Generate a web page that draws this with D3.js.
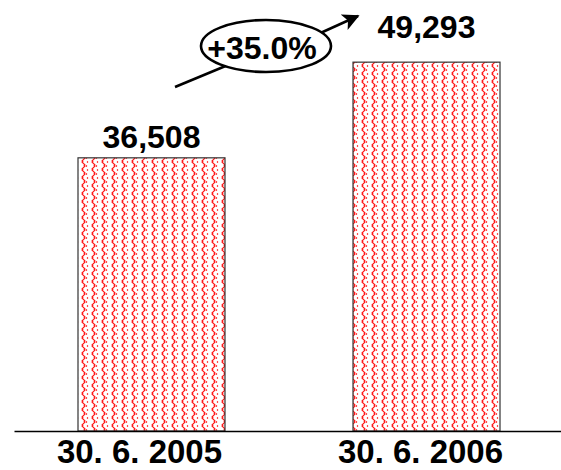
<!DOCTYPE html>
<html>
<head>
<meta charset="utf-8">
<script src="https://cdn.jsdelivr.net/npm/d3@7"></script>
<style>
  html, body { margin: 0; padding: 0; background: #fff; }
  svg { display: block; }
  text { font-family: Arial, "Liberation Sans", sans-serif; font-weight: bold; fill: #000; }
</style>
</head>
<body>
<svg id="chart" width="561" height="470"></svg>
<script>
// Headcount at mid-year
const categories = ["30. 6. 2005", "30. 6. 2006"];
const values = [36508, 49293];

const width = 561, height = 470;
const baseY = 431;

const svg = d3.select("#chart");

// Red dashed wave hatching used to fill the bars
const defs = svg.append("defs");
const pat = defs.append("pattern")
  .attr("id", "wave")
  .attr("patternUnits", "userSpaceOnUse")
  .attr("width", 10)
  .attr("height", 8);
pat.append("path")
  .attr("d", "M2.5,0 L2.5,3 M4.5,4 L4.5,7 M3.5,3 L3.5,4 M3.5,7 L3.5,8")
  .attr("stroke", "#ff1a1a")
  .attr("stroke-width", 1.7)
  .attr("fill", "none");
pat.append("path")
  .attr("d", "M7.5,1 L7.5,3 M6.5,5 L6.5,7")
  .attr("stroke", "#ff4d4d")
  .attr("stroke-width", 1.2)
  .attr("fill", "none");

const x = d3.scaleBand()
  .domain(categories)
  .range([14, 564])
  .paddingInner(0.4655)
  .paddingOuter(0.2327);

const y = d3.scaleLinear()
  .domain([0, 57600])
  .range([baseY, 0]);

const data = categories.map((c, i) => ({ cat: c, val: values[i] }));

// Bars
svg.append("g").selectAll("rect")
  .data(data)
  .join("rect")
  .attr("x", d => x(d.cat))
  .attr("y", d => y(d.val))
  .attr("width", x.bandwidth())
  .attr("height", d => baseY - y(d.val))
  .attr("fill", "url(#wave)")
  .attr("stroke", "#333")
  .attr("stroke-width", 1.2);

// Value labels above bars
const labelGap = [10, 24];
svg.append("g").selectAll("text")
  .data(data)
  .join("text")
  .attr("x", d => x(d.cat) + x.bandwidth() / 2)
  .attr("y", (d, i) => y(d.val) - labelGap[i])
  .attr("text-anchor", "middle")
  .attr("font-size", 32)
  .text(d => d3.format(",")(d.val));

// Category axis
const tickShift = [-12, -6];
const axis = svg.append("g")
  .attr("transform", `translate(0,${baseY})`)
  .call(d3.axisBottom(x).tickSize(0).tickPadding(0));
axis.select(".domain")
  .attr("stroke", "#000")
  .attr("stroke-width", 1.5);
axis.selectAll(".tick text")
  .attr("font-size", 33)
  .attr("font-family", "Arial, 'Liberation Sans', sans-serif")
  .attr("font-weight", "bold")
  .attr("fill", "#000")
  .attr("dy", 0)
  .attr("dx", (d, i) => tickShift[i])
  .attr("y", 32);

// Growth annotation: arrow passing behind an ellipse
const growth = (values[1] / values[0] - 1) * 100;
const ann = svg.append("g");
defs.append("marker")
  .attr("id", "head")
  .attr("viewBox", "0 0 10 10")
  .attr("refX", 9)
  .attr("refY", 5)
  .attr("markerWidth", 6.5)
  .attr("markerHeight", 6.5)
  .attr("orient", "auto")
  .attr("markerUnits", "strokeWidth")
  .append("path")
  .attr("d", "M0,0 L10,5 L0,10 L2.5,5 Z")
  .attr("fill", "#000");

ann.append("line")
  .attr("x1", 175).attr("y1", 87)
  .attr("x2", 240).attr("y2", 60)
  .attr("stroke", "#000").attr("stroke-width", 2.6);
ann.append("line")
  .attr("x1", 305).attr("y1", 40)
  .attr("x2", 358).attr("y2", 16)
  .attr("stroke", "#000").attr("stroke-width", 2.6)
  .attr("marker-end", "url(#head)");

ann.append("ellipse")
  .attr("cx", 266).attr("cy", 46)
  .attr("rx", 65).attr("ry", 26)
  .attr("fill", "#fff")
  .attr("stroke", "#000")
  .attr("stroke-width", 2.6);

ann.append("text")
  .attr("x", 262)
  .attr("y", 59)
  .attr("text-anchor", "middle")
  .attr("font-size", 32)
  .text("+" + growth.toFixed(1) + "%");
</script>
</body>
</html>
